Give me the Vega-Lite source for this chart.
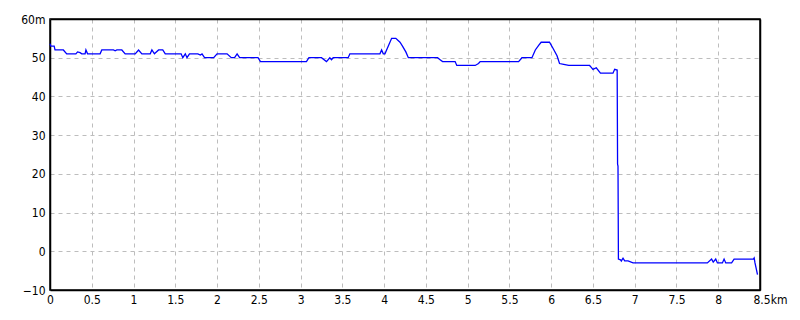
{
  "$schema": "https://vega.github.io/schema/vega-lite/v6.json",
  "width": 710,
  "height": 271,
  "autosize": {"type": "none"},
  "padding": {"left": 50, "top": 19, "right": 40, "bottom": 30},
  "background": "white",
  "config": {
    "view": {"stroke": "black", "strokeWidth": 1.5},
    "axis": {
      "labelFont": "DejaVu Sans Condensed",
      "labelFontSize": 12,
      "labelColor": "black",
      "ticks": false,
      "domainColor": "black",
      "domainWidth": 1.5,
      "gridDash": [4, 4],
      "gridWidth": 1,
      "title": null
    }
  },
  "data": {
    "values": [
      {"km": 0, "m": 53.6}, {"km": 0.01, "m": 53}, {"km": 0.05, "m": 53}, {"km": 0.06, "m": 52},
      {"km": 0.16, "m": 52}, {"km": 0.2, "m": 51}, {"km": 0.31, "m": 51}, {"km": 0.33, "m": 51.5},
      {"km": 0.36, "m": 51.3}, {"km": 0.38, "m": 51}, {"km": 0.42, "m": 51}, {"km": 0.43, "m": 52},
      {"km": 0.45, "m": 51}, {"km": 0.6, "m": 51}, {"km": 0.62, "m": 52}, {"km": 0.76, "m": 52},
      {"km": 0.78, "m": 51.8}, {"km": 0.8, "m": 52}, {"km": 0.86, "m": 52}, {"km": 0.9, "m": 51},
      {"km": 1.02, "m": 51}, {"km": 1.06, "m": 52}, {"km": 1.1, "m": 51}, {"km": 1.2, "m": 51},
      {"km": 1.22, "m": 52}, {"km": 1.25, "m": 51}, {"km": 1.3, "m": 52}, {"km": 1.35, "m": 52},
      {"km": 1.38, "m": 51}, {"km": 1.57, "m": 51}, {"km": 1.59, "m": 50}, {"km": 1.62, "m": 51},
      {"km": 1.64, "m": 50}, {"km": 1.67, "m": 51}, {"km": 1.77, "m": 51}, {"km": 1.8, "m": 50.7},
      {"km": 1.82, "m": 51}, {"km": 1.85, "m": 50}, {"km": 1.96, "m": 50}, {"km": 2.0, "m": 51},
      {"km": 2.12, "m": 51}, {"km": 2.17, "m": 50}, {"km": 2.21, "m": 50}, {"km": 2.24, "m": 51},
      {"km": 2.27, "m": 50}, {"km": 2.49, "m": 50}, {"km": 2.52, "m": 49}, {"km": 3.07, "m": 49},
      {"km": 3.1, "m": 50}, {"km": 3.25, "m": 50}, {"km": 3.31, "m": 49}, {"km": 3.35, "m": 50},
      {"km": 3.37, "m": 49.5}, {"km": 3.39, "m": 50}, {"km": 3.57, "m": 50}, {"km": 3.59, "m": 51},
      {"km": 3.95, "m": 51}, {"km": 3.97, "m": 52}, {"km": 3.99, "m": 51}, {"km": 4.01, "m": 51},
      {"km": 4.09, "m": 55}, {"km": 4.14, "m": 55}, {"km": 4.19, "m": 54}, {"km": 4.22, "m": 53},
      {"km": 4.26, "m": 51.5}, {"km": 4.29, "m": 50}, {"km": 4.64, "m": 50}, {"km": 4.67, "m": 49.5},
      {"km": 4.7, "m": 49}, {"km": 4.85, "m": 49}, {"km": 4.87, "m": 48}, {"km": 5.09, "m": 48},
      {"km": 5.13, "m": 48.5}, {"km": 5.15, "m": 49}, {"km": 5.61, "m": 49}, {"km": 5.65, "m": 50},
      {"km": 5.77, "m": 50}, {"km": 5.81, "m": 52}, {"km": 5.85, "m": 53.2}, {"km": 5.88, "m": 54},
      {"km": 5.98, "m": 54}, {"km": 6.02, "m": 52.5}, {"km": 6.07, "m": 50.5}, {"km": 6.1, "m": 48.5},
      {"km": 6.15, "m": 48.3}, {"km": 6.21, "m": 48}, {"km": 6.46, "m": 48}, {"km": 6.48, "m": 47.5},
      {"km": 6.5, "m": 47}, {"km": 6.54, "m": 47.4}, {"km": 6.59, "m": 46}, {"km": 6.74, "m": 46},
      {"km": 6.76, "m": 47}, {"km": 6.79, "m": 46.8}, {"km": 6.795, "m": 22.5}, {"km": 6.8, "m": 22},
      {"km": 6.805, "m": -2}, {"km": 6.83, "m": -2.2}, {"km": 6.84, "m": -2.5}, {"km": 6.86, "m": -1.8},
      {"km": 6.88, "m": -2.5}, {"km": 6.92, "m": -2.5}, {"km": 6.98, "m": -3}, {"km": 7.87, "m": -3},
      {"km": 7.92, "m": -2}, {"km": 7.94, "m": -2.8}, {"km": 7.97, "m": -2}, {"km": 7.99, "m": -3},
      {"km": 8.05, "m": -3}, {"km": 8.07, "m": -2}, {"km": 8.09, "m": -3}, {"km": 8.16, "m": -3},
      {"km": 8.19, "m": -2}, {"km": 8.42, "m": -2}, {"km": 8.43, "m": -1.7}, {"km": 8.44, "m": -3},
      {"km": 8.46, "m": -5}, {"km": 8.47, "m": -6}
    ]
  },
  "mark": {"type": "line", "color": "#0000ff", "strokeWidth": 1.3, "interpolate": "linear"},
  "encoding": {
    "x": {
      "field": "km",
      "type": "quantitative",
      "scale": {"domain": [0, 8.5], "nice": false, "zero": false},
      "axis": {
        "values": [0, 0.5, 1, 1.5, 2, 2.5, 3, 3.5, 4, 4.5, 5, 5.5, 6, 6.5, 7, 7.5, 8, 8.5],
        "format": "~g",
        "labelExpr": "datum.value == 8.5 ? '8.5km' : datum.label",
        "labelAlign": {"condition": {"test": "datum.value == 8.5", "value": "left"}, "value": "center"},
        "labelOffset": {"condition": {"test": "datum.value == 8.5", "value": -7}, "value": 0},
        "gridColor": {"condition": {"test": "datum.value == 8.5", "value": "black"}, "value": "#bdbdbd"},
        "gridDash": {"condition": {"test": "datum.value == 8.5", "value": []}, "value": [4, 4]},
        "gridWidth": {"condition": {"test": "datum.value == 8.5", "value": 1.5}, "value": 1},
        "labelPadding": 4,
        "labelFlush": false
      }
    },
    "y": {
      "field": "m",
      "type": "quantitative",
      "scale": {"domain": [-10, 60], "nice": false, "zero": false},
      "axis": {
        "values": [-10, 0, 10, 20, 30, 40, 50, 60],
        "labelExpr": "datum.value == 60 ? '60m' : datum.label",
        "gridColor": {"condition": {"test": "datum.value == 60", "value": "black"}, "value": "#bdbdbd"},
        "gridDash": {"condition": {"test": "datum.value == 60", "value": []}, "value": [4, 4]},
        "gridWidth": {"condition": {"test": "datum.value == 60", "value": 1.5}, "value": 1},
        "labelPadding": 5,
        "labelFlush": false
      }
    }
  }
}
